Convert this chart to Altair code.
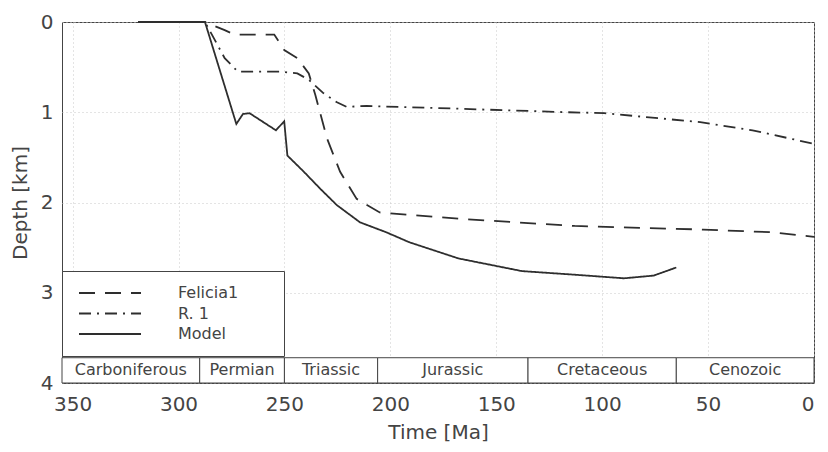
import altair as alt
import pandas as pd

# ---- data (time in Ma, depth in km) ----
model_ma = [319, 287.5, 272.7, 269.6, 266.5, 254, 250.1, 248.6, 240.8, 233, 225.2, 214.3, 201.9, 191.1, 167.8, 137.9, 113, 89.7, 75.7, 65]
model_depth = [0, 0, 1.13, 1.02, 1.01, 1.2, 1.1, 1.48, 1.66, 1.85, 2.03, 2.22, 2.33, 2.44, 2.62, 2.76, 2.80, 2.84, 2.81, 2.72]

felicia_ma = [319, 287.5, 278.2, 273.5, 254.8, 250.1, 243.9, 238.5, 235.4, 229.9, 223.7, 215.9, 205, 167.8, 113, 52.3, 19.6, 0]
felicia_depth = [0, 0, 0.09, 0.14, 0.14, 0.31, 0.40, 0.57, 0.81, 1.29, 1.66, 1.96, 2.11, 2.18, 2.26, 2.30, 2.33, 2.38]

r1_ma = [319, 287.5, 278.2, 272, 251.7, 243.9, 238.5, 231.5, 225.2, 220.6, 211.2, 169, 116, 99, 53.7, 29, 0]
r1_depth = [0, 0, 0.40, 0.55, 0.55, 0.57, 0.64, 0.79, 0.89, 0.94, 0.93, 0.96, 1.0, 1.01, 1.11, 1.2, 1.35]

series_names = ["Felicia1", "R. 1", "Model"]

period_names = ["Carboniferous", "Permian", "Triassic", "Jurassic", "Cretaceous", "Cenozoic"]
period_start = [355, 290, 250, 206, 135, 65]
period_end = [290, 250, 206, 135, 65, 0]

x_ticks = [350, 300, 250, 200, 150, 100, 50, 0]
y_ticks = [0, 1, 2, 3, 4]

# ---- tables ----
rows = []
for name, xs, ys in [("Felicia1", felicia_ma, felicia_depth),
                     ("R. 1", r1_ma, r1_depth),
                     ("Model", model_ma, model_depth)]:
    for i, (a, d) in enumerate(zip(xs, ys)):
        rows.append({"series": name, "ma": a, "depth": d, "idx": i})
lines_df = pd.DataFrame(rows)

strip_top, strip_bottom = 3.72, 4.0
periods_df = pd.DataFrame({
    "name": period_names,
    "start": period_start,
    "end": period_end,
})
periods_df["mid"] = (periods_df["start"] + periods_df["end"]) / 2
periods_df["top"] = strip_top
periods_df["bottom"] = strip_bottom
periods_df["center"] = (strip_top + strip_bottom) / 2

ink = "#2e2e2e"
txt = "#444444"
font = "DejaVu Sans"
xscale = alt.Scale(domain=[355, 0], nice=False, zero=False)
yscale = alt.Scale(domain=[4, 0], nice=False, zero=False)

xaxis = alt.Axis(values=x_ticks, title="Time [Ma]", format="d")
yaxis = alt.Axis(values=y_ticks, title="Depth [km]", format="d")

lines = alt.Chart(lines_df).mark_line(color=ink, strokeWidth=1.8).encode(
    x=alt.X("ma:Q", scale=xscale, axis=xaxis),
    y=alt.Y("depth:Q", scale=yscale, axis=yaxis),
    strokeDash=alt.StrokeDash(
        "series:N",
        scale=alt.Scale(domain=series_names, range=[[16, 10], [12, 6, 2, 6], [1, 0]]),
        legend=alt.Legend(
            title=None,
            orient="none",
            legendX=0,
            legendY=249,
            padding=14,
            strokeColor=txt,
            fillColor="white",
            symbolType="M-6.2,0H6.2M31.2,0",
            symbolSize=100,
            symbolOffset=26,
            symbolStrokeWidth=1.8,
            symbolStrokeColor=ink,
            symbolFillColor="transparent",
            labelOffset=60,
            labelFontSize=16,
            labelColor=txt,
            labelFont=font,
            rowPadding=4.5,
        ),
        sort=series_names,
    ),
    detail="series:N",
    order="idx:Q",
)

strip = alt.Chart(periods_df).mark_rect(fill="white", stroke=txt, strokeWidth=1).encode(
    x=alt.X("start:Q", scale=xscale),
    x2="end:Q",
    y=alt.Y("top:Q", scale=yscale),
    y2="bottom:Q",
)

strip_text = alt.Chart(periods_df).mark_text(
    fontSize=16, color=txt, font=font
).encode(
    x=alt.X("mid:Q", scale=xscale),
    y=alt.Y("center:Q", scale=yscale),
    text="name:N",
)

chart = alt.layer(lines, strip, strip_text).properties(
    width=752,
    height=361,
    autosize=alt.AutoSizeParams(type="none"),
    padding={"left": 54, "top": 14, "right": 6, "bottom": 64},
).configure_view(
    stroke=txt, strokeWidth=1
).configure_axis(
    labelFont=font,
    titleFont=font,
    labelFontSize=20,
    titleFontSize=20,
    titleFontWeight="normal",
    labelColor=txt,
    titleColor=txt,
    grid=True,
    gridColor="#c8c8c8",
    gridDash=[1, 3],
    gridWidth=1,
    ticks=False,
    domain=False,
).configure_axisX(
    labelPadding=11,
    titlePadding=8,
).configure_axisY(
    labelPadding=9,
    titlePadding=10,
)

chart.save("out.html", embed_options={"renderer": "svg", "actions": False})
